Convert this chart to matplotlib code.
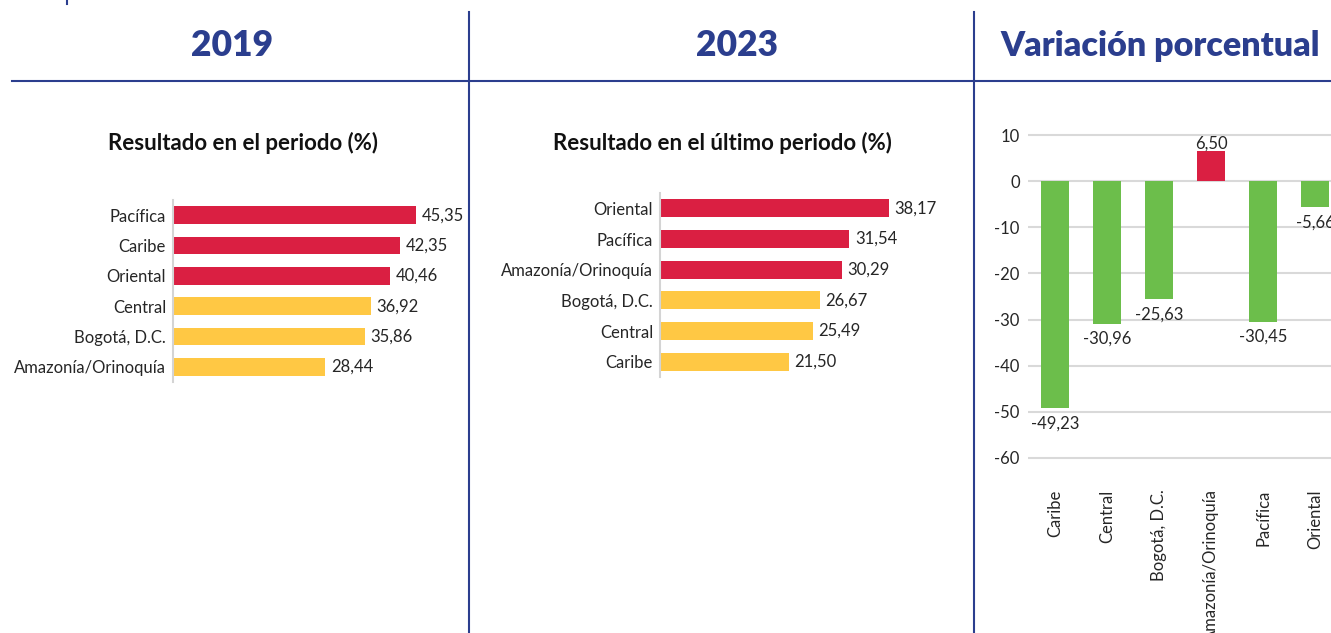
import numpy as np
import matplotlib.pyplot as plt
from matplotlib.lines import Line2D

W, H = 1331, 633
NAVY = '#2B3E8E'
RED = '#DA1F42'
YELLOW = '#FFC844'
GREEN = '#6CBE4B'
TXT = '#262626'

plt.rcParams['font.family'] = ['Lato', 'DejaVu Sans']
plt.rcParams['axes.unicode_minus'] = False

headers = ['2019', '2023', 'Variación porcentual']
titles = ['Resultado en el periodo (%)', 'Resultado en el último periodo (%)']

regions_2019 = ['Pacífica', 'Caribe', 'Oriental', 'Central', 'Bogotá, D.C.', 'Amazonía/Orinoquía']
values_2019 = [45.35, 42.35, 40.46, 36.92, 35.86, 28.44]

regions_2023 = ['Oriental', 'Pacífica', 'Amazonía/Orinoquía', 'Bogotá, D.C.', 'Central', 'Caribe']
values_2023 = [38.17, 31.54, 30.29, 26.67, 25.49, 21.50]

regions_var = ['Caribe', 'Central', 'Bogotá, D.C.', 'Amazonía/Orinoquía', 'Pacífica', 'Oriental']
values_var = [-49.23, -30.96, -25.63, 6.50, -30.45, -5.66]

FS = 12


def px_axes(fig, left, top, width, height):
    # place an axes using pixel coords measured from the top-left corner
    return fig.add_axes([left / W, 1 - (top + height) / H, width / W, height / H])


def fmt(v):
    return f'{v:.2f}'.replace('.', ',')


def hbar_panel(ax, names, vals, xmax):
    y = np.arange(len(vals))
    colors = [RED if i < 3 else YELLOW for i in range(len(vals))]
    ax.barh(y, vals, height=0.58, color=colors)
    ax.set_ylim(len(vals) - 0.5, -0.5)
    ax.set_xlim(0, xmax)
    ax.set_yticks(y, names, fontsize=FS, color=TXT)
    ax.tick_params(axis='y', length=0, pad=5)
    ax.set_xticks([])
    for s in ['top', 'right', 'bottom']:
        ax.spines[s].set_visible(False)
    ax.spines['left'].set_color('#D4D4D4')
    ax.spines['left'].set_linewidth(1.5)
    for yi, v in zip(y, vals):
        ax.annotate(fmt(v), (v, yi), xytext=(4, 0), textcoords='offset points',
                    va='center', ha='left', fontsize=FS, color=TXT)


fig = plt.figure(figsize=(W / 100, H / 100), dpi=100)

# panel 1 - 2019
ax1 = px_axes(fig, 173, 200, 268, 182)
hbar_panel(ax1, regions_2019, values_2019, 50)

# panel 2 - 2023
ax2 = px_axes(fig, 660, 193, 270, 184)
hbar_panel(ax2, regions_2023, values_2023, 45)

# panel 3 - variation (right edge is cut by the figure, like the source)
ax3 = px_axes(fig, 1028, 135 - 2.3, 312, 323 + 4.6)
x = np.arange(len(values_var))
ax3.bar(x, values_var, width=0.54, color=[GREEN if v < 0 else RED for v in values_var], zorder=3)
ax3.set_xlim(-0.52, 5.48)
ax3.set_ylim(-60.5, 10.5)
ax3.set_yticks(np.arange(-60, 11, 10))
ax3.grid(axis='y', color='#D9D9D9', lw=1.5, zorder=0)
ax3.set_axisbelow(True)
for s in ax3.spines.values():
    s.set_visible(False)
ax3.tick_params(axis='y', length=0, pad=6, labelsize=FS, labelcolor=TXT)
ax3.set_xticks(x, regions_var, rotation=90)
ax3.tick_params(axis='x', length=0, pad=21, labelsize=FS, labelcolor=TXT)
for xi, v in zip(x, values_var):
    if v < 0:
        ax3.annotate(fmt(v), (xi, v), xytext=(0, -5), textcoords='offset points',
                     ha='center', va='top', fontsize=FS, color=TXT)
    else:
        ax3.annotate(fmt(v), (xi, v), xytext=(0, 0), textcoords='offset points',
                     ha='center', va='bottom', fontsize=FS, color=TXT)

# headers and frame lines
for cx, h, fs in zip([232, 737, 1160], headers, [25.5, 25.5, 24.5]):
    fig.text(cx / W, 1 - 46 / H, h, ha='center', va='center', fontsize=fs,
             fontweight='heavy', color=NAVY)
for cx, t in zip([243, 722], titles):
    fig.text(cx / W, 1 - 143 / H, t, ha='center', va='center', fontsize=16,
             fontweight='bold', color='#111111')

fig.add_artist(Line2D([12 / W, 1], [1 - 81 / H] * 2, color=NAVY, lw=1.5))
for vx in [469, 974]:
    fig.add_artist(Line2D([vx / W] * 2, [1 - 12 / H, 0], color=NAVY, lw=1.5))
fig.add_artist(Line2D([67 / W] * 2, [1, 1 - 4 / H], color=NAVY, lw=1.5))

fig.savefig('out.png', dpi=100)
